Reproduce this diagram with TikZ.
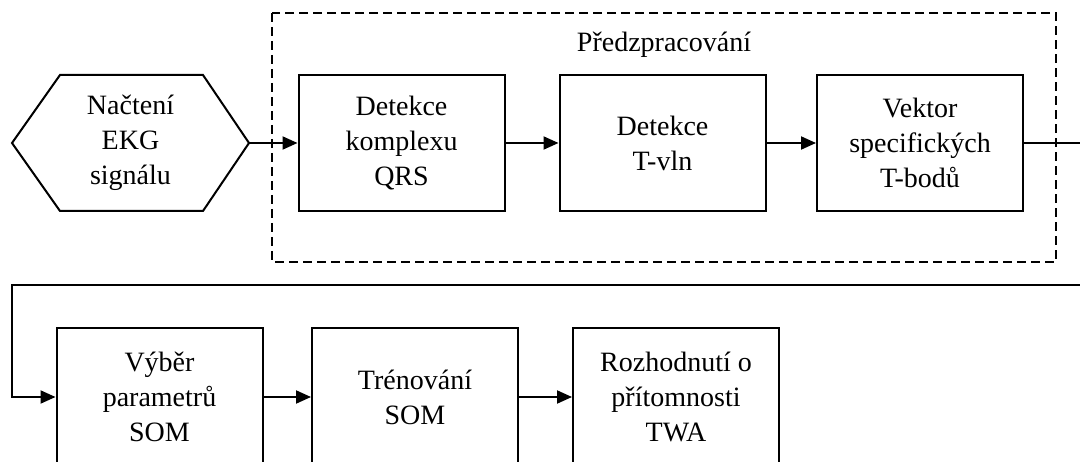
\documentclass[tikz,border=0pt]{standalone}
\usepackage{fontspec}
\setmainfont{Liberation Serif}
\usetikzlibrary{arrows.meta}
\begin{document}
\begin{tikzpicture}[x=1pt,y=-1pt,
  every node/.style={font=\fontsize{28}{35}\selectfont, align=center, inner sep=0pt},
  stage/.style={draw, line width=2pt, minimum width=206pt, minimum height=136pt},
  flow/.style={line width=2pt, -{Triangle[length=15pt,width=13pt]}},
  group/.style={draw, line width=1.8pt, dash pattern=on 9pt off 5pt}]
\useasboundingbox (0,0) rectangle (1080,462);
\clip (0,0) rectangle (1080,462);

% preprocessing group
\draw[group] (272,13) rectangle (1056,262);
\node (grp) at (664,45) {Předzpracování};

% input stage (hexagon)
\node (load) at (130.5,143) {Načtení\\EKG\\signálu};
\draw[line width=2pt, line join=miter] (12,143) -- (60,75) -- (203,75) -- (249,143) -- (203,211) -- (60,211) -- cycle;
\coordinate (loadR) at (249,143);

% top row
\node[stage] (qrs) at (401.5,143) {Detekce\\komplexu\\QRS};
\node[stage] (twave) at (662.5,143) {Detekce\\T-vln};
\node[stage] (vec) at (920,143) {Vektor\\specifických\\T-bodů};

% bottom row
\node[stage, minimum height=138pt] (par) at (159.5,397) {Výběr\\parametrů\\SOM};
\node[stage, minimum height=138pt] (train) at (415,397) {Trénování\\SOM};
\node[stage, minimum height=138pt] (dec) at (676,397) {Rozhodnutí o\\přítomnosti\\TWA};

% connectors
\draw[flow] (loadR) -- (qrs.west);
\draw[flow] (qrs.east) -- (twave.west);
\draw[flow] (twave.east) -- (vec.west);
\coordinate (r1) at (1095,143);
\coordinate (r2) at (1095,285);
\coordinate (l1) at (12,285);
\draw[flow] (vec.east) -- (r1) -- (r2) -- (l1) |- (par.west);
\draw[flow] (par.east) -- (train.west);
\draw[flow] (train.east) -- (dec.west);
\end{tikzpicture}
\end{document}
